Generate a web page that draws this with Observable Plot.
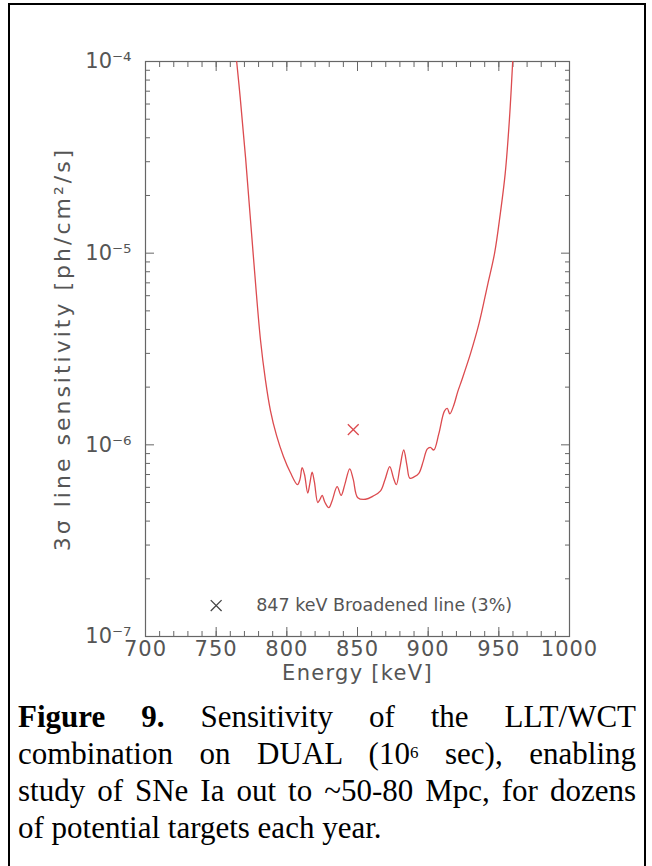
<!DOCTYPE html>
<html><head><meta charset="utf-8">
<script src="https://cdn.jsdelivr.net/npm/d3@7"></script>
<script src="https://cdn.jsdelivr.net/npm/@observablehq/plot@0.6"></script>
<style>
body{margin:0;background:#fff;overflow:hidden}
#wrap{position:relative;width:652px;height:866px;overflow:hidden;background:#fff}
#border{position:absolute;left:8px;top:3px;width:638px;height:900px;border:2px solid #000;box-sizing:border-box}
#chart{position:absolute;left:0;top:0}
#caption{position:absolute;left:18px;top:698px;width:618px;font-family:"Liberation Serif","Times New Roman",serif;font-size:31px;line-height:37px;color:#000}
#caption .ln{text-align:justify;text-align-last:justify;white-space:nowrap}
#caption .ln.last{text-align-last:left}
#caption sup{font-size:17px;vertical-align:top;position:relative;top:-1px}
</style></head>
<body>
<div id="wrap"><div id="border"></div><div id="chart"></div>
<div id="caption">
<div class="ln"><b>Figure 9.</b> Sensitivity of the LLT/WCT</div>
<div class="ln">combination on DUAL (10<sup>6</sup> sec), enabling</div>
<div class="ln">study of SNe Ia out to ~50-80 Mpc, for dozens</div>
<div class="ln last">of potential targets each year.</div>
</div>
</div>
<script>
// Curve data
const energy = [764.5,767,770.8,776.1,781.4,784.9,788.4,792.7,797.6,802.5,807.5,809.3,810.8,812.5,814.8,816.3,817.9,819.5,821.9,823.5,825,827,829.7,832,835.6,838.4,841,844.5,847,850.2,855.7,861,866.3,869.5,872.8,875.5,877.5,880,882.7,885,887,890,893.4,896.5,899.3,901.5,904,907.5,911.5,913.5,915.3,918,921,924,930,936,942,947,951,954.5,957.5,959.8];
const sensitivity = [1.0e-4,6.5e-5,3.15e-5,1.01e-5,3.5e-6,2.17e-6,1.51e-6,1.12e-6,8.7e-7,7.17e-7,6.2e-7,6.6e-7,7.6e-7,7.0e-7,5.6e-7,6.3e-7,7.2e-7,6.4e-7,5.0e-7,5.2e-7,5.45e-7,5.0e-7,4.7e-7,5.1e-7,6.05e-7,5.45e-7,6.2e-7,7.5e-7,6.6e-7,5.3e-7,5.2e-7,5.4e-7,5.75e-7,6.6e-7,7.7e-7,6.7e-7,6.2e-7,7.6e-7,9.4e-7,7.8e-7,6.7e-7,6.8e-7,7.1e-7,8.2e-7,9.5e-7,9.7e-7,9.4e-7,1.14e-6,1.5e-6,1.55e-6,1.45e-6,1.6e-6,1.9e-6,2.2e-6,3.0e-6,4.3e-6,6.8e-6,1.0e-5,1.6e-5,2.6e-5,5.0e-5,1.0e-4];

// Broadened-line point
const broadEnergy = [847];
const broadSens = [1.2e-6];

// Legend
const legendEnergy = [750];
const legendSens = [1.45e-7];
const legendLabel = ["847 keV Broadened line (3%)"];

// Ticks and titles
const xMajor = [700,750,800,850,900,950,1000];
const xMinor = d3.range(700,1001,10);
const yMajor = [1e-7,1e-6,1e-5,1e-4];
const yMinor = [2,3,4,5,6,7,8,9].flatMap(m => [1e-7,1e-6,1e-5].map(d => m*d));
const xTitle = ["Energy [keV]"];
const yTitle = ["3σ line sensitivity [ph/cm²/s]"];

const sup = {"-":"⁻","0":"⁰","1":"¹","2":"²","3":"³","4":"⁴","5":"⁵","6":"⁶","7":"⁷","8":"⁸","9":"⁹"};
const fmtPow = d => "10" + String(Math.round(Math.log10(d))).split("").map(c => sup[c]).join("");

const axisColor = "#666";
const red = "#dc4b4f";
const font = "DejaVu Sans";

const chart = Plot.plot({
  width: 652, height: 700,
  marginLeft: 145, marginRight: 83, marginTop: 61, marginBottom: 64,
  x: {domain: [700, 1000]},
  y: {type: "log", domain: [1e-7, 1e-4]},
  style: {fontFamily: font, background: "transparent", color: "#555"},
  marks: [
    // inward ticks, bottom & top
    Plot.axisX({anchor: "bottom", ticks: xMajor, tickSize: -9, tickFormat: () => "", stroke: axisColor, label: null}),
    Plot.axisX({anchor: "bottom", ticks: xMinor, tickSize: -5, tickFormat: () => "", stroke: axisColor, label: null}),
    Plot.axisX({anchor: "top", ticks: xMajor, tickSize: -9, tickFormat: () => "", stroke: axisColor, label: null}),
    Plot.axisX({anchor: "top", ticks: xMinor, tickSize: -5, tickFormat: () => "", stroke: axisColor, label: null}),
    // inward ticks, left & right
    Plot.axisY({anchor: "left", ticks: yMajor, tickSize: -9, tickFormat: () => "", stroke: axisColor, label: null}),
    Plot.axisY({anchor: "left", ticks: yMinor, tickSize: -5, tickFormat: () => "", stroke: axisColor, label: null}),
    Plot.axisY({anchor: "right", ticks: yMajor, tickSize: -9, tickFormat: () => "", stroke: axisColor, label: null}),
    Plot.axisY({anchor: "right", ticks: yMinor, tickSize: -5, tickFormat: () => "", stroke: axisColor, label: null}),
    // tick labels
    Plot.axisX({anchor: "bottom", ticks: xMajor, tickSize: 0, tickPadding: 5, fontSize: 21, fill: "#555", label: null, tickFormat: d => String(d)}),
    Plot.axisY({anchor: "left", ticks: yMajor, tickSize: 0, tickPadding: 14, fontSize: 21, fill: "#555", label: null, tickFormat: fmtPow}),
    Plot.frame({stroke: axisColor, strokeWidth: 1.2}),
    // data
    Plot.line(energy.map((e, i) => ({e, s: sensitivity[i]})), {x: "e", y: "s", stroke: red, strokeWidth: 1.3, curve: "catmull-rom", clip: true}),
    Plot.dot(broadEnergy.map((e, i) => ({e, s: broadSens[i]})), {x: "e", y: "s", symbol: "times", r: 5, stroke: red, strokeWidth: 1.3}),
    // legend
    Plot.dot(legendEnergy.map((e, i) => ({e, s: legendSens[i]})), {x: "e", y: "s", symbol: "times", r: 5, stroke: "#444", strokeWidth: 1.3}),
    Plot.text(legendEnergy.map((e, i) => ({e, s: legendSens[i], t: legendLabel[i]})), {x: "e", y: "s", text: "t", dx: 40, textAnchor: "start", fontSize: 17.5, fill: "#555"}),
    // axis titles
    Plot.text(xTitle, {frameAnchor: "bottom", dy: 37, lineAnchor: "middle", textAnchor: "middle", fontSize: 21, fill: "#555"}),
    Plot.text(yTitle, {frameAnchor: "left", dx: -83, rotate: -90, textAnchor: "middle", lineAnchor: "middle", fontSize: 22, fill: "#555"})
  ]
});
const texts = d3.select(chart).selectAll("text");
texts.filter(function() { return this.textContent === yTitle[0]; }).style("letter-spacing", "3px");
texts.filter(function() { return this.textContent === xTitle[0]; }).style("letter-spacing", "1.3px");
texts.filter(function() { return xMajor.map(String).includes(this.textContent); }).style("letter-spacing", "1px");
document.getElementById("chart").appendChild(chart);
</script>
</body></html>
